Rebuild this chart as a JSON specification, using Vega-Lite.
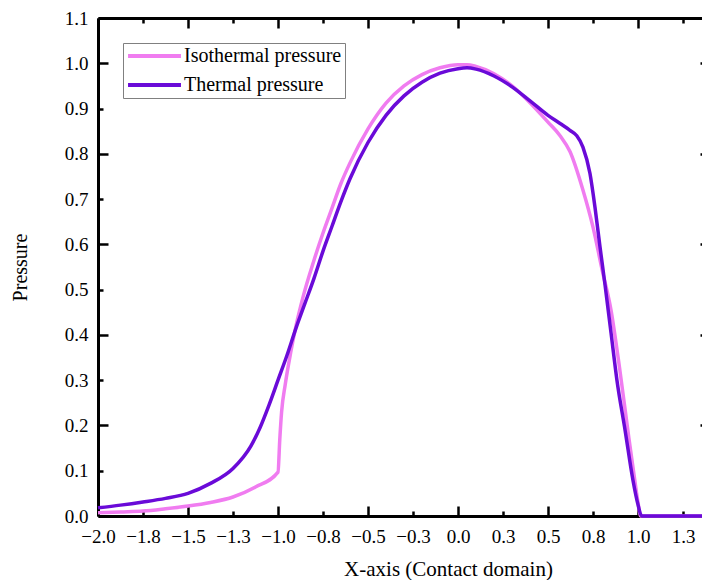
{
  "$schema": "https://vega.github.io/schema/vega-lite/v6.json",
  "width": 612,
  "height": 498,
  "autosize": {"type": "none"},
  "padding": {"left": 98, "top": 18, "right": 0, "bottom": 64},
  "background": "white",
  "config": {"view": {"stroke": null}, "font": "Liberation Serif"},
  "data": {"values": [
    {"x": -2.0, "p": 0.007, "s": "Isothermal pressure"},
    {"x": -1.875, "p": 0.009, "s": "Isothermal pressure"},
    {"x": -1.75, "p": 0.011, "s": "Isothermal pressure"},
    {"x": -1.625, "p": 0.016, "s": "Isothermal pressure"},
    {"x": -1.5, "p": 0.022, "s": "Isothermal pressure"},
    {"x": -1.375, "p": 0.03, "s": "Isothermal pressure"},
    {"x": -1.25, "p": 0.042, "s": "Isothermal pressure"},
    {"x": -1.125, "p": 0.064, "s": "Isothermal pressure"},
    {"x": -1.0, "p": 0.097, "s": "Isothermal pressure"},
    {"x": -0.99, "p": 0.17, "s": "Isothermal pressure"},
    {"x": -0.98, "p": 0.23, "s": "Isothermal pressure"},
    {"x": -0.96, "p": 0.29, "s": "Isothermal pressure"},
    {"x": -0.93, "p": 0.36, "s": "Isothermal pressure"},
    {"x": -0.9, "p": 0.42, "s": "Isothermal pressure"},
    {"x": -0.86, "p": 0.485, "s": "Isothermal pressure"},
    {"x": -0.8, "p": 0.565, "s": "Isothermal pressure"},
    {"x": -0.75, "p": 0.625, "s": "Isothermal pressure"},
    {"x": -0.7, "p": 0.68, "s": "Isothermal pressure"},
    {"x": -0.65, "p": 0.735, "s": "Isothermal pressure"},
    {"x": -0.6, "p": 0.78, "s": "Isothermal pressure"},
    {"x": -0.5, "p": 0.855, "s": "Isothermal pressure"},
    {"x": -0.4, "p": 0.912, "s": "Isothermal pressure"},
    {"x": -0.3, "p": 0.95, "s": "Isothermal pressure"},
    {"x": -0.2, "p": 0.975, "s": "Isothermal pressure"},
    {"x": -0.1, "p": 0.99, "s": "Isothermal pressure"},
    {"x": 0.0, "p": 0.997, "s": "Isothermal pressure"},
    {"x": 0.05, "p": 0.997, "s": "Isothermal pressure"},
    {"x": 0.1, "p": 0.993, "s": "Isothermal pressure"},
    {"x": 0.2, "p": 0.977, "s": "Isothermal pressure"},
    {"x": 0.3, "p": 0.95, "s": "Isothermal pressure"},
    {"x": 0.4, "p": 0.913, "s": "Isothermal pressure"},
    {"x": 0.5, "p": 0.87, "s": "Isothermal pressure"},
    {"x": 0.567, "p": 0.84, "s": "Isothermal pressure"},
    {"x": 0.622, "p": 0.805, "s": "Isothermal pressure"},
    {"x": 0.694, "p": 0.72, "s": "Isothermal pressure"},
    {"x": 0.75, "p": 0.638, "s": "Isothermal pressure"},
    {"x": 0.8, "p": 0.545, "s": "Isothermal pressure"},
    {"x": 0.85, "p": 0.455, "s": "Isothermal pressure"},
    {"x": 0.9, "p": 0.32, "s": "Isothermal pressure"},
    {"x": 0.95, "p": 0.17, "s": "Isothermal pressure"},
    {"x": 0.98, "p": 0.085, "s": "Isothermal pressure"},
    {"x": 1.0, "p": 0.03, "s": "Isothermal pressure"},
    {"x": 1.015, "p": 0.0, "s": "Isothermal pressure"},
    {"x": 1.4, "p": 0.0, "s": "Isothermal pressure"},
    {"x": -2.0, "p": 0.018, "s": "Thermal pressure"},
    {"x": -1.875, "p": 0.024, "s": "Thermal pressure"},
    {"x": -1.75, "p": 0.031, "s": "Thermal pressure"},
    {"x": -1.625, "p": 0.039, "s": "Thermal pressure"},
    {"x": -1.5, "p": 0.05, "s": "Thermal pressure"},
    {"x": -1.375, "p": 0.072, "s": "Thermal pressure"},
    {"x": -1.25, "p": 0.105, "s": "Thermal pressure"},
    {"x": -1.15, "p": 0.155, "s": "Thermal pressure"},
    {"x": -1.1, "p": 0.195, "s": "Thermal pressure"},
    {"x": -1.05, "p": 0.245, "s": "Thermal pressure"},
    {"x": -1.0, "p": 0.3, "s": "Thermal pressure"},
    {"x": -0.95, "p": 0.355, "s": "Thermal pressure"},
    {"x": -0.9, "p": 0.415, "s": "Thermal pressure"},
    {"x": -0.85, "p": 0.47, "s": "Thermal pressure"},
    {"x": -0.8, "p": 0.525, "s": "Thermal pressure"},
    {"x": -0.75, "p": 0.585, "s": "Thermal pressure"},
    {"x": -0.7, "p": 0.64, "s": "Thermal pressure"},
    {"x": -0.65, "p": 0.695, "s": "Thermal pressure"},
    {"x": -0.6, "p": 0.745, "s": "Thermal pressure"},
    {"x": -0.5, "p": 0.825, "s": "Thermal pressure"},
    {"x": -0.4, "p": 0.885, "s": "Thermal pressure"},
    {"x": -0.3, "p": 0.928, "s": "Thermal pressure"},
    {"x": -0.2, "p": 0.958, "s": "Thermal pressure"},
    {"x": -0.1, "p": 0.978, "s": "Thermal pressure"},
    {"x": 0.0, "p": 0.988, "s": "Thermal pressure"},
    {"x": 0.05, "p": 0.99, "s": "Thermal pressure"},
    {"x": 0.1, "p": 0.987, "s": "Thermal pressure"},
    {"x": 0.2, "p": 0.972, "s": "Thermal pressure"},
    {"x": 0.3, "p": 0.948, "s": "Thermal pressure"},
    {"x": 0.4, "p": 0.917, "s": "Thermal pressure"},
    {"x": 0.5, "p": 0.885, "s": "Thermal pressure"},
    {"x": 0.567, "p": 0.867, "s": "Thermal pressure"},
    {"x": 0.622, "p": 0.852, "s": "Thermal pressure"},
    {"x": 0.66, "p": 0.84, "s": "Thermal pressure"},
    {"x": 0.694, "p": 0.815, "s": "Thermal pressure"},
    {"x": 0.733, "p": 0.757, "s": "Thermal pressure"},
    {"x": 0.761, "p": 0.682, "s": "Thermal pressure"},
    {"x": 0.789, "p": 0.594, "s": "Thermal pressure"},
    {"x": 0.817, "p": 0.51, "s": "Thermal pressure"},
    {"x": 0.85, "p": 0.405, "s": "Thermal pressure"},
    {"x": 0.883, "p": 0.3, "s": "Thermal pressure"},
    {"x": 0.928, "p": 0.19, "s": "Thermal pressure"},
    {"x": 0.972, "p": 0.079, "s": "Thermal pressure"},
    {"x": 1.0, "p": 0.025, "s": "Thermal pressure"},
    {"x": 1.02, "p": 0.0, "s": "Thermal pressure"},
    {"x": 1.4, "p": 0.0, "s": "Thermal pressure"}
  ]},
  "resolve": {"axis": {"x": "independent", "y": "independent"}},
  "layer": [
    {
      "mark": {"type": "line", "strokeWidth": 3.5, "interpolate": "monotone"},
      "encoding": {
        "x": {
          "field": "x", "type": "quantitative",
          "scale": {"domain": [-2, 1.4], "nice": false, "zero": false},
          "axis": {
            "orient": "bottom",
            "values": [-2, -1.75, -1.5, -1.25, -1, -0.75, -0.5, -0.25, 0, 0.25, 0.5, 0.75, 1, 1.25],
            "format": ".1f",
            "grid": false,
            "tickSize": {"condition": {"test": "abs(datum.value*2-round(datum.value*2))<0.001", "value": -10}, "value": -5},
            "labelPadding": {"condition": {"test": "abs(datum.value*2-round(datum.value*2))<0.001", "value": 21}, "value": 16},
            "tickWidth": 2.5, "tickColor": "black",
            "domainColor": "black", "domainWidth": 3,
            "labelFont": "Liberation Serif", "labelFontSize": 19, "labelColor": "black",
            "labelFlush": false, "labelOverlap": false, "labelBound": false,
            "title": "X-axis (Contact domain)",
            "titleFont": "Liberation Serif", "titleFontSize": 21, "titleFontWeight": "normal", "titleColor": "black",
            "titleX": 350,
            "titlePadding": 12
          }
        },
        "y": {
          "field": "p", "type": "quantitative",
          "scale": {"domain": [0, 1.1], "nice": false},
          "axis": {
            "orient": "left",
            "values": [0, 0.1, 0.2, 0.3, 0.4, 0.5, 0.6, 0.7, 0.8, 0.9, 1.0, 1.1],
            "format": ".1f",
            "grid": false,
            "tickSize": {"condition": {"test": "abs(datum.value*5-round(datum.value*5))<0.001", "value": -10}, "value": -5},
            "labelPadding": {"condition": {"test": "abs(datum.value*5-round(datum.value*5))<0.001", "value": 20}, "value": 15},
            "tickWidth": 2.5, "tickColor": "black",
            "domainColor": "black", "domainWidth": 3,
            "labelFont": "Liberation Serif", "labelFontSize": 19, "labelColor": "black",
            "labelFlush": false, "labelOverlap": false, "labelBound": false,
            "title": "Pressure",
            "titleFont": "Liberation Serif", "titleFontSize": 20, "titleFontWeight": "normal", "titleColor": "black",
            "titlePadding": 34
          }
        },
        "color": {
          "field": "s", "type": "nominal",
          "scale": {"domain": ["Isothermal pressure", "Thermal pressure"], "range": ["#f07cf0", "#6a0ad8"]},
          "legend": {
            "title": null,
            "orient": "none",
            "legendX": 25,
            "legendY": 25,
            "symbolType": "stroke",
            "symbolSize": 2800,
            "symbolStrokeWidth": 4,
            "clipHeight": 20,
            "labelFont": "Liberation Serif",
            "labelFontSize": 20,
            "labelColor": "black",
            "labelOffset": 1,
            "padding": 3,
            "rowPadding": 9,
            "strokeColor": "#808080",
            "fillColor": "white"
          }
        }
      }
    },
    {
      "mark": {"type": "line", "opacity": 0},
      "encoding": {
        "x": {
          "field": "x", "type": "quantitative",
          "axis": {
            "orient": "top",
            "values": [-2, -1.75, -1.5, -1.25, -1, -0.75, -0.5, -0.25, 0, 0.25, 0.5, 0.75, 1, 1.25],
            "labels": false, "title": null, "grid": false,
            "tickSize": {"condition": {"test": "abs(datum.value*2-round(datum.value*2))<0.001", "value": -10}, "value": -5},
            "tickWidth": 2.5, "tickColor": "black",
            "domainColor": "black", "domainWidth": 3
          }
        },
        "y": {
          "field": "p", "type": "quantitative",
          "axis": {
            "orient": "right",
            "values": [0, 0.1, 0.2, 0.3, 0.4, 0.5, 0.6, 0.7, 0.8, 0.9, 1.0, 1.1],
            "labels": false, "title": null, "grid": false,
            "tickSize": {"condition": {"test": "abs(datum.value*5-round(datum.value*5))<0.001", "value": -10}, "value": -5},
            "tickWidth": 2.5, "tickColor": "black",
            "domainColor": "black", "domainWidth": 3
          }
        },
        "detail": {"field": "s", "type": "nominal"}
      }
    }
  ]
}
